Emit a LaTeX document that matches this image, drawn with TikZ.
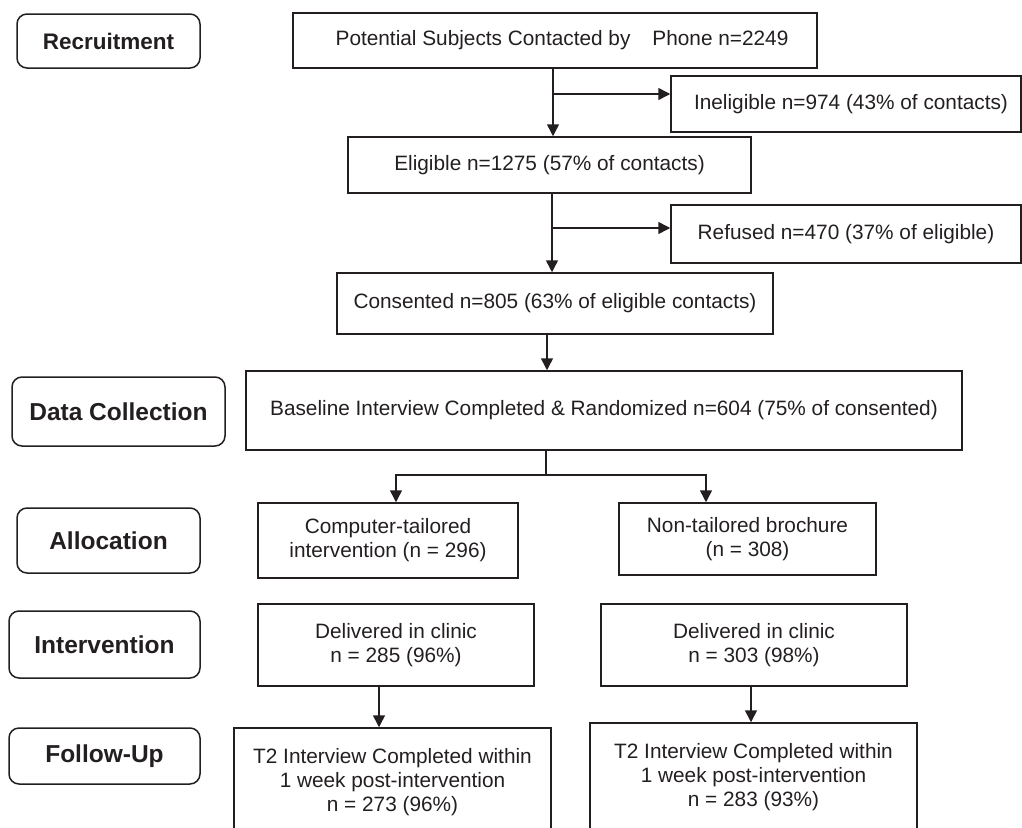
\documentclass[tikz,border=0pt]{standalone}
\usepackage{fontspec}
\setmainfont{Liberation Sans}
\usetikzlibrary{arrows.meta,calc}
\definecolor{ink}{HTML}{231F20}
\begin{document}
\begin{tikzpicture}[x=1pt,y=-1pt,
  box/.style={draw=ink,line width=1.5pt,inner sep=0pt,align=center,text=ink,
    font=\fontsize{20.8}{24}\selectfont},
  stage/.style={draw=ink,line width=1.5pt,rounded corners=10pt,inner sep=0pt,align=center,text=ink,
    font=\bfseries\fontsize{24.5}{28}\selectfont},
  arr/.style={draw=ink,line width=1.5pt,-{Triangle[length=12pt,width=12pt]}},
  ln/.style={draw=ink,line width=1.5pt}]
\useasboundingbox (0,0) rectangle (1022,827);
\clip (0,0) rectangle (1022,827);
% stage labels
\node[stage,minimum width=183pt,minimum height=54pt,font=\bfseries\fontsize{22.5}{26}\selectfont] (rec) at (108.5,41) {Recruitment};
\node[stage,minimum width=213pt,minimum height=69pt] (dc) at (118.5,411.5) {Data Collection};
\node[stage,minimum width=183pt,minimum height=65pt] (alloc) at (108.5,540.5) {Allocation};
\node[stage,minimum width=191pt,minimum height=67pt] (interv) at (104.5,644.5) {Intervention};
\node[stage,minimum width=191pt,minimum height=56pt] (fu) at (104.5,756) {Follow-Up};
% flow boxes
\node[box,minimum width=524pt,minimum height=55pt] (pot) at (555,40.5) {\hspace{14pt}Potential Subjects Contacted by\hspace{22pt}Phone n=2249};
\node[box,minimum width=350pt,minimum height=56pt] (inel) at (846,104) {\hspace{10pt}Ineligible n=974 (43\% of contacts)};
\node[box,minimum width=403pt,minimum height=56pt] (elig) at (549.5,165) {Eligible n=1275 (57\% of contacts)};
\node[box,minimum width=350pt,minimum height=58pt] (ref) at (846,234) {Refused n=470 (37\% of eligible)};
\node[box,minimum width=436pt,minimum height=61pt] (cons) at (555,303.5) {Consented n=805 (63\% of eligible contacts)};
\node[box,minimum width=716pt,minimum height=79pt] (base) at (604,410.5) {Baseline Interview Completed \& Randomized n=604 (75\% of consented)};
\node[box,minimum width=260pt,minimum height=75pt] (ct) at (388,540.5) {Computer-tailored\\intervention (n = 296)};
\node[box,minimum width=257pt,minimum height=72pt] (nt) at (747.5,539) {Non-tailored brochure\\(n = 308)};
\node[box,minimum width=276pt,minimum height=82pt] (dl) at (396,645) {Delivered in clinic\\n = 285 (96\%)};
\node[box,minimum width=306pt,minimum height=82pt] (dr) at (754,645) {Delivered in clinic\\n = 303 (98\%)};
\node[box,minimum width=317pt,minimum height=108pt] (t2l) at (392.5,782) {T2 Interview Completed within\\1 week post-intervention\\n = 273 (96\%)};
\node[box,minimum width=327pt,minimum height=108pt] (t2r) at (753.5,777) {T2 Interview Completed within\\1 week post-intervention\\n = 283 (93\%)};
% connector anchor points
\coordinate (potS) at ([xshift=-2pt]pot.south);
\coordinate (inelW) at ([yshift=10pt]inel.west);
\coordinate (eligS) at ([xshift=2.5pt]elig.south);
\coordinate (refW) at ([yshift=6pt]ref.west);
\coordinate (consS) at ([xshift=-8pt]cons.south);
\coordinate (baseS) at ([xshift=-58pt]base.south);
\coordinate (split) at ($(baseS)+(0,24)$);
\coordinate (ctN) at ([xshift=8pt]ct.north);
\coordinate (ntN) at ([xshift=-41.5pt]nt.north);
\coordinate (dlS) at ([xshift=-17pt]dl.south);
\coordinate (drS) at ([xshift=-3pt]dr.south);
% connectors
\draw[arr] (potS) -- (potS |- elig.north);
\draw[arr] (potS |- inelW) -- (inelW);
\draw[arr] (eligS) -- (eligS |- cons.north);
\draw[arr] (eligS |- refW) -- (refW);
\draw[arr] (consS) -- (consS |- base.north);
\draw[ln] (baseS) -- (split);
\draw[arr] (split) -| (ctN);
\draw[arr] (split) -| (ntN);
\draw[arr] (dlS) -- (dlS |- t2l.north);
\draw[arr] (drS) -- (drS |- t2r.north);
\end{tikzpicture}
\end{document}
